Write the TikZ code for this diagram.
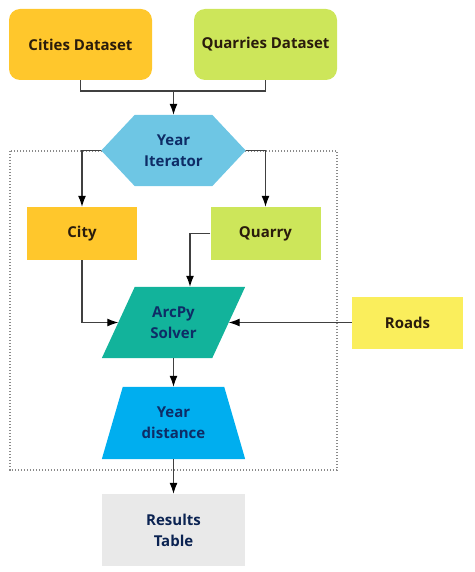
\documentclass[tikz,border=0pt]{standalone}
\usepackage{fontspec}
\setmainfont{Open Sans}
\usetikzlibrary{arrows.meta,backgrounds,calc}
\definecolor{cgold}{HTML}{FFC72C}
\definecolor{clime}{HTML}{CDE65A}
\definecolor{chex}{HTML}{6EC6E4}
\definecolor{cteal}{HTML}{12B39B}
\definecolor{croad}{HTML}{FAEE5C}
\definecolor{cblue}{HTML}{00AEEF}
\definecolor{cgrey}{HTML}{E9E9E9}
\definecolor{tdark}{HTML}{2A1C0C}
\definecolor{tnavy}{HTML}{0E2C66}
\definecolor{cline}{HTML}{404040}
\definecolor{cdot}{HTML}{8A8A8A}
\begin{document}
\begin{tikzpicture}[x=1pt,y=-1pt,
  lbl/.style={font=\bfseries\fontsize{15}{21}\selectfont,align=center,inner sep=0pt},
  dbox/.style={lbl,rectangle,rounded corners=11pt,minimum width=143pt,minimum height=71pt,text=tdark},
  sbox/.style={lbl,rectangle,minimum width=110pt,minimum height=53pt,text=tdark},
  shp/.style={lbl,rectangle,minimum width=143pt,minimum height=71pt,text=tnavy},
  conn/.style={draw=cline,line width=1.1pt},
  arr/.style={conn,-{Latex[length=11pt,width=8pt,color=black]}}]
\useasboundingbox (0,0) rectangle (474,572);
% nodes
\node[dbox,fill=cgold] (cities) at (80.5,44.5) {Cities Dataset};
\node[dbox,fill=clime] (quarries) at (265.5,44.5) {Quarries Dataset};
\node[shp,minimum width=144pt] (iter) at (173.5,150.5) {Year\\Iterator};
\node[sbox,fill=cgold] (city) at (82,233.5) {City};
\node[sbox,fill=clime] (quarry) at (265.5,233.5) {Quarry};
\node[shp] (solver) at (173.5,322.5) {ArcPy\\Solver};
\node[sbox,fill=croad,minimum width=111pt,minimum height=52pt] (roads) at (407.5,322.5) {Roads};
\node[shp,minimum height=72pt] (dist) at (173.5,423) {Year\\distance};
\node[shp,minimum height=72pt,fill=cgrey,text=tnavy!80!black] (results) at (173.5,530) {Results\\Table};
% shape fills and dotted frame
\begin{scope}[on background layer]
  \draw[cdot,line width=1.3pt,dash pattern=on 1.2pt off 1.8pt] (10,151) rectangle (337,470);
  \fill[chex] (iter.west) -- ($(iter.north west)+(33.5,0)$) -- ($(iter.north east)+(-33.5,0)$)
    -- (iter.east) -- ($(iter.south east)+(-33.5,0)$) -- ($(iter.south west)+(33.5,0)$) -- cycle;
  \fill[cteal] (solver.south west) -- ($(solver.north west)+(33,0)$) -- (solver.north east)
    -- ($(solver.south east)+(-33,0)$) -- cycle;
  \fill[cblue] (dist.south west) -- ($(dist.north west)+(21,0)$) -- ($(dist.north east)+(-21,0)$)
    -- (dist.south east) -- cycle;
\end{scope}
% coordinates on shape borders
\coordinate (j) at (173.5,91);
\coordinate (solverTop) at ($(solver.north)+(16.5,0)$);
\coordinate (solverL) at ($(solver.west)+(16.5,0)$);
\coordinate (solverR) at ($(solver.east)+(-16.5,0)$);
\coordinate (solverBot) at (solver.south);
% connectors
\draw[conn] (cities.south) |- (j) -| (quarries.south);
\draw[arr] (j) -- (iter.north);
\draw[arr] (iter.west) -| (city.north);
\draw[arr] (iter.east) -| (quarry.north);
\draw[arr] (quarry.west) -| (solverTop);
\draw[arr] (city.south) |- (solverL);
\draw[arr] (roads.west) -- (solverR);
\draw[arr] (solverBot) -- (dist.north);
\draw[arr] (dist.south) -- (results.north);
\end{tikzpicture}
\end{document}
